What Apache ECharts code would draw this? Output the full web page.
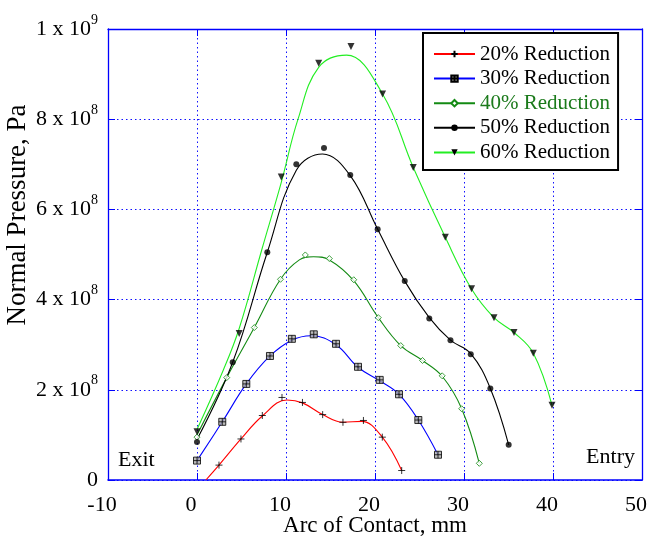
<!DOCTYPE html>
<html><head><meta charset="utf-8">
<script src="https://cdn.jsdelivr.net/npm/echarts@6/dist/echarts.min.js"></script>
<style>html,body{margin:0;padding:0;background:#fff}#c{width:649px;height:541px}</style>
</head><body><div id="c"></div>
<script>
const FONT = 'Liberation Serif';
const seriesNames = ['20% Reduction', '30% Reduction', '40% Reduction', '50% Reduction', '60% Reduction'];
const lineColors = ['#ff0000', '#0000ff', '#138a13', '#000000', '#22ee22'];
const xTicks = [-10, 0, 10, 20, 30, 40, 50];
const yTicks = [0, 2e8, 4e8, 6e8, 8e8, 1e9];

// measured points (markers): [arc of contact mm, normal pressure Pa]
const pts20 = [[2.47,3.3e7],[4.94,9.1e7],[7.34,1.43e8],[9.55,1.83e8],[11.85,1.72e8],[14.12,1.45e8],[16.4,1.28e8],[18.7,1.32e8],[20.82,9.5e7],[23.0,2.1e7]];
const pts30 = [[0.0,4.3e7],[2.84,1.29e8],[5.54,2.13e8],[8.2,2.75e8],[10.66,3.13e8],[13.12,3.23e8],[15.62,3.02e8],[18.09,2.51e8],[20.53,2.22e8],[22.7,1.9e8],[24.87,1.33e8],[27.08,5.6e7]];
const pts40 = [[0.0,9.5e7],[3.34,2.27e8],[6.44,3.38e8],[9.38,4.45e8],[12.17,4.99e8],[14.87,4.91e8],[17.61,4.44e8],[20.37,3.6e8],[22.89,2.98e8],[25.34,2.65e8],[27.55,2.31e8],[29.74,1.58e8],[31.72,3.7e7]];
const pts50 = [[0.0,8.4e7],[4.01,2.61e8],[7.9,5.05e8],[11.16,7.0e8],[14.27,7.36e8],[17.22,6.76e8],[20.3,5.56e8],[23.34,4.41e8],[26.1,3.58e8],[28.48,3.1e8],[30.76,2.79e8],[32.96,2.03e8],[35.02,7.8e7]];
const pts60 = [[0.0,1.07e8],[4.74,3.25e8],[9.47,6.72e8],[13.67,9.24e8],[17.3,9.61e8],[20.85,8.56e8],[24.3,6.93e8],[27.9,5.38e8],[30.85,4.24e8],[33.37,3.6e8],[35.62,3.27e8],[37.79,2.81e8],[39.89,1.66e8]];

// fitted curves
const fit20 = [[1.0,0],[2.47,3.3e7],[4.94,9.1e7],[7.34,1.42e8],[10.1,1.775e8],[11.85,1.71e8],[14.12,1.45e8],[16.4,1.28e8],[18.5,1.3e8],[20.82,9.5e7],[23.0,2.1e7]];
const fit30 = [[0,4.3e7],[2.84,1.29e8],[5.54,2.13e8],[8.2,2.75e8],[10.66,3.1e8],[12.8,3.2e8],[15.62,3.0e8],[18.09,2.5e8],[20.53,2.2e8],[22.7,1.9e8],[24.87,1.33e8],[27.08,5.6e7]];
const fit40 = [[0,1.0e8],[3.34,2.27e8],[6.44,3.38e8],[9.38,4.45e8],[11.5,4.88e8],[13.1,4.95e8],[14.87,4.88e8],[17.61,4.42e8],[20.37,3.6e8],[22.89,2.98e8],[25.34,2.65e8],[27.55,2.3e8],[29.74,1.58e8],[31.72,3.7e7]];
const fit50 = [[0,9.0e7],[4.01,2.61e8],[7.9,5.05e8],[11.16,6.87e8],[14.1,7.23e8],[17.22,6.75e8],[20.3,5.56e8],[23.34,4.41e8],[26.1,3.6e8],[28.48,3.1e8],[30.76,2.8e8],[32.96,2.03e8],[35.02,7.8e7]];
const fit60 = [[0,1.12e8],[2.96,2.44e8],[4.74,3.36e8],[7.27,5.1e8],[9.47,6.6e8],[11.35,8.0e8],[13.67,9.15e8],[16.8,9.42e8],[20.85,8.56e8],[24.3,6.93e8],[27.9,5.38e8],[30.85,4.235e8],[33.37,3.6e8],[35.62,3.27e8],[37.79,2.81e8],[39.89,1.656e8]];

const allPts = [pts20, pts30, pts40, pts50, pts60];
const allFits = [fit20, fit30, fit40, fit50, fit60];

const plusPath = 'path://M0,5L10,5M5,0L5,10';
const gridSquarePath = 'path://M0,0L10,0L10,10L0,10ZM5,0L5,10M0,5L10,5';
const markerDefs = [
  { symbol: plusPath, size: 7, rotate: 0, itemStyle: { color: 'none', borderColor: '#000', borderWidth: 1 } },
  { symbol: gridSquarePath, size: 7, rotate: 0, itemStyle: { color: '#aaaaaa', borderColor: '#000', borderWidth: 1 } },
  { symbol: 'diamond', size: 6, rotate: 0, itemStyle: { color: '#ffffff', borderColor: '#138a13', borderWidth: 1 } },
  { symbol: 'circle', size: 6, rotate: 0, itemStyle: { color: '#000', borderColor: '#000', borderWidth: 0 } },
  { symbol: 'triangle', size: 7, rotate: 180, itemStyle: { color: '#000', borderColor: '#000', borderWidth: 0 } }
];

const series = [];
seriesNames.forEach((name, i) => {
  series.push({
    name, type: 'line', data: allFits[i], smooth: 0.4, showSymbol: false,
    symbol: markerDefs[i].symbol, symbolRotate: markerDefs[i].rotate,
    lineStyle: { color: lineColors[i], width: 1.1 },
    itemStyle: markerDefs[i].itemStyle,
    emphasis: { disabled: true }, z: 2
  });
});
seriesNames.forEach((name, i) => {
  series.push({
    name, type: 'scatter', data: allPts[i],
    symbol: markerDefs[i].symbol, symbolSize: markerDefs[i].size, symbolRotate: markerDefs[i].rotate,
    itemStyle: markerDefs[i].itemStyle,
    emphasis: { disabled: true }, z: 3
  });
});

function yFmt(v) {
  if (v === 0) return '{b|0}';
  const e = Math.floor(Math.log10(v) + 1e-9);
  const m = Math.round(v / Math.pow(10, e));
  return '{b|' + m + ' x 10}{s|' + e + '}';
}

const blue = '#0000ff';
const chart = echarts.init(document.getElementById('c'), null, { renderer: 'canvas' });
chart.setOption({
  animation: false,
  backgroundColor: '#fff',
  grid: { left: 108, right: 7, top: 29, bottom: 61, containLabel: false, outerBoundsMode: 'none' },
  xAxis: [{
    type: 'value', min: xTicks[0], max: xTicks[xTicks.length - 1], interval: 10,
    position: 'bottom',
    axisLine: { show: true, onZero: false, lineStyle: { color: blue, width: 1.6 } },
    axisTick: { show: true, inside: true, length: 7, lineStyle: { color: blue, width: 1 } },
    axisLabel: { color: '#000', fontFamily: FONT, fontSize: 22, lineHeight: 22, margin: 14, padding: [0, 12, 0, 0] },
    splitLine: { show: true, lineStyle: { color: '#1010ff', width: 1, type: [1.5, 3] } },
    name: 'Arc of Contact, mm', nameLocation: 'middle', nameGap: 34, nameMoveOverlap: false,
    nameTextStyle: { color: '#000', fontFamily: FONT, fontSize: 23, lineHeight: 24 }
  }, {
    type: 'value', min: xTicks[0], max: xTicks[xTicks.length - 1], interval: 10,
    position: 'top',
    axisLine: { show: true, onZero: false, lineStyle: { color: blue, width: 1.3 } },
    axisTick: { show: true, inside: true, length: 7, lineStyle: { color: blue, width: 1 } },
    axisLabel: { show: false }, splitLine: { show: false }
  }],
  yAxis: [{
    type: 'value', min: yTicks[0], max: yTicks[yTicks.length - 1], interval: 2e8,
    position: 'left',
    axisLine: { show: true, onZero: false, lineStyle: { color: blue, width: 1.3 } },
    axisTick: { show: true, inside: true, length: 7, lineStyle: { color: blue, width: 1 } },
    axisLabel: {
      color: '#000', margin: 10, formatter: yFmt, padding: [0, 0, 5, 0],
      rich: {
        b: { fontFamily: FONT, fontSize: 22, lineHeight: 27, verticalAlign: 'bottom', color: '#000' },
        s: { fontFamily: FONT, fontSize: 14, verticalAlign: 'top', color: '#000' }
      }
    },
    splitLine: { show: true, lineStyle: { color: '#1010ff', width: 1, type: [1.5, 3] } }
  }, {
    type: 'value', min: yTicks[0], max: yTicks[yTicks.length - 1], interval: 2e8,
    position: 'right',
    axisLine: { show: true, onZero: false, lineStyle: { color: blue, width: 1.3 } },
    axisTick: { show: true, inside: true, length: 7, lineStyle: { color: blue, width: 1 } },
    axisLabel: { show: false }, splitLine: { show: false }
  }],
  legend: {
    orient: 'vertical', left: 423, top: 33, padding: [10.5, 8, 7, 10],
    itemWidth: 41, itemHeight: 8, itemGap: 3.6,
    backgroundColor: '#fff', borderColor: '#000', borderWidth: 2, borderRadius: 0,
    textStyle: { fontFamily: FONT, fontSize: 21, color: '#000' },
    selectedMode: false, z: 10,
    data: seriesNames.map((n, i) => i === 2 ? { name: n, textStyle: { color: '#1b7a1b' } } : { name: n })
  },
  graphic: [
    { type: 'text', left: 118, top: 449, z: 20, style: { text: 'Exit', font: '22px "Liberation Serif"', fill: '#000' } },
    { type: 'text', right: 14, top: 446, z: 20, style: { text: 'Entry', font: '22px "Liberation Serif"', fill: '#000' } },
    { type: 'text', x: 18, y: 215, rotation: Math.PI / 2, z: 20,
      style: { text: 'Normal Pressure, Pa', font: '27px "Liberation Serif"', fill: '#000', align: 'center', verticalAlign: 'middle' } }
  ],
  series
});
</script>
</body></html>
